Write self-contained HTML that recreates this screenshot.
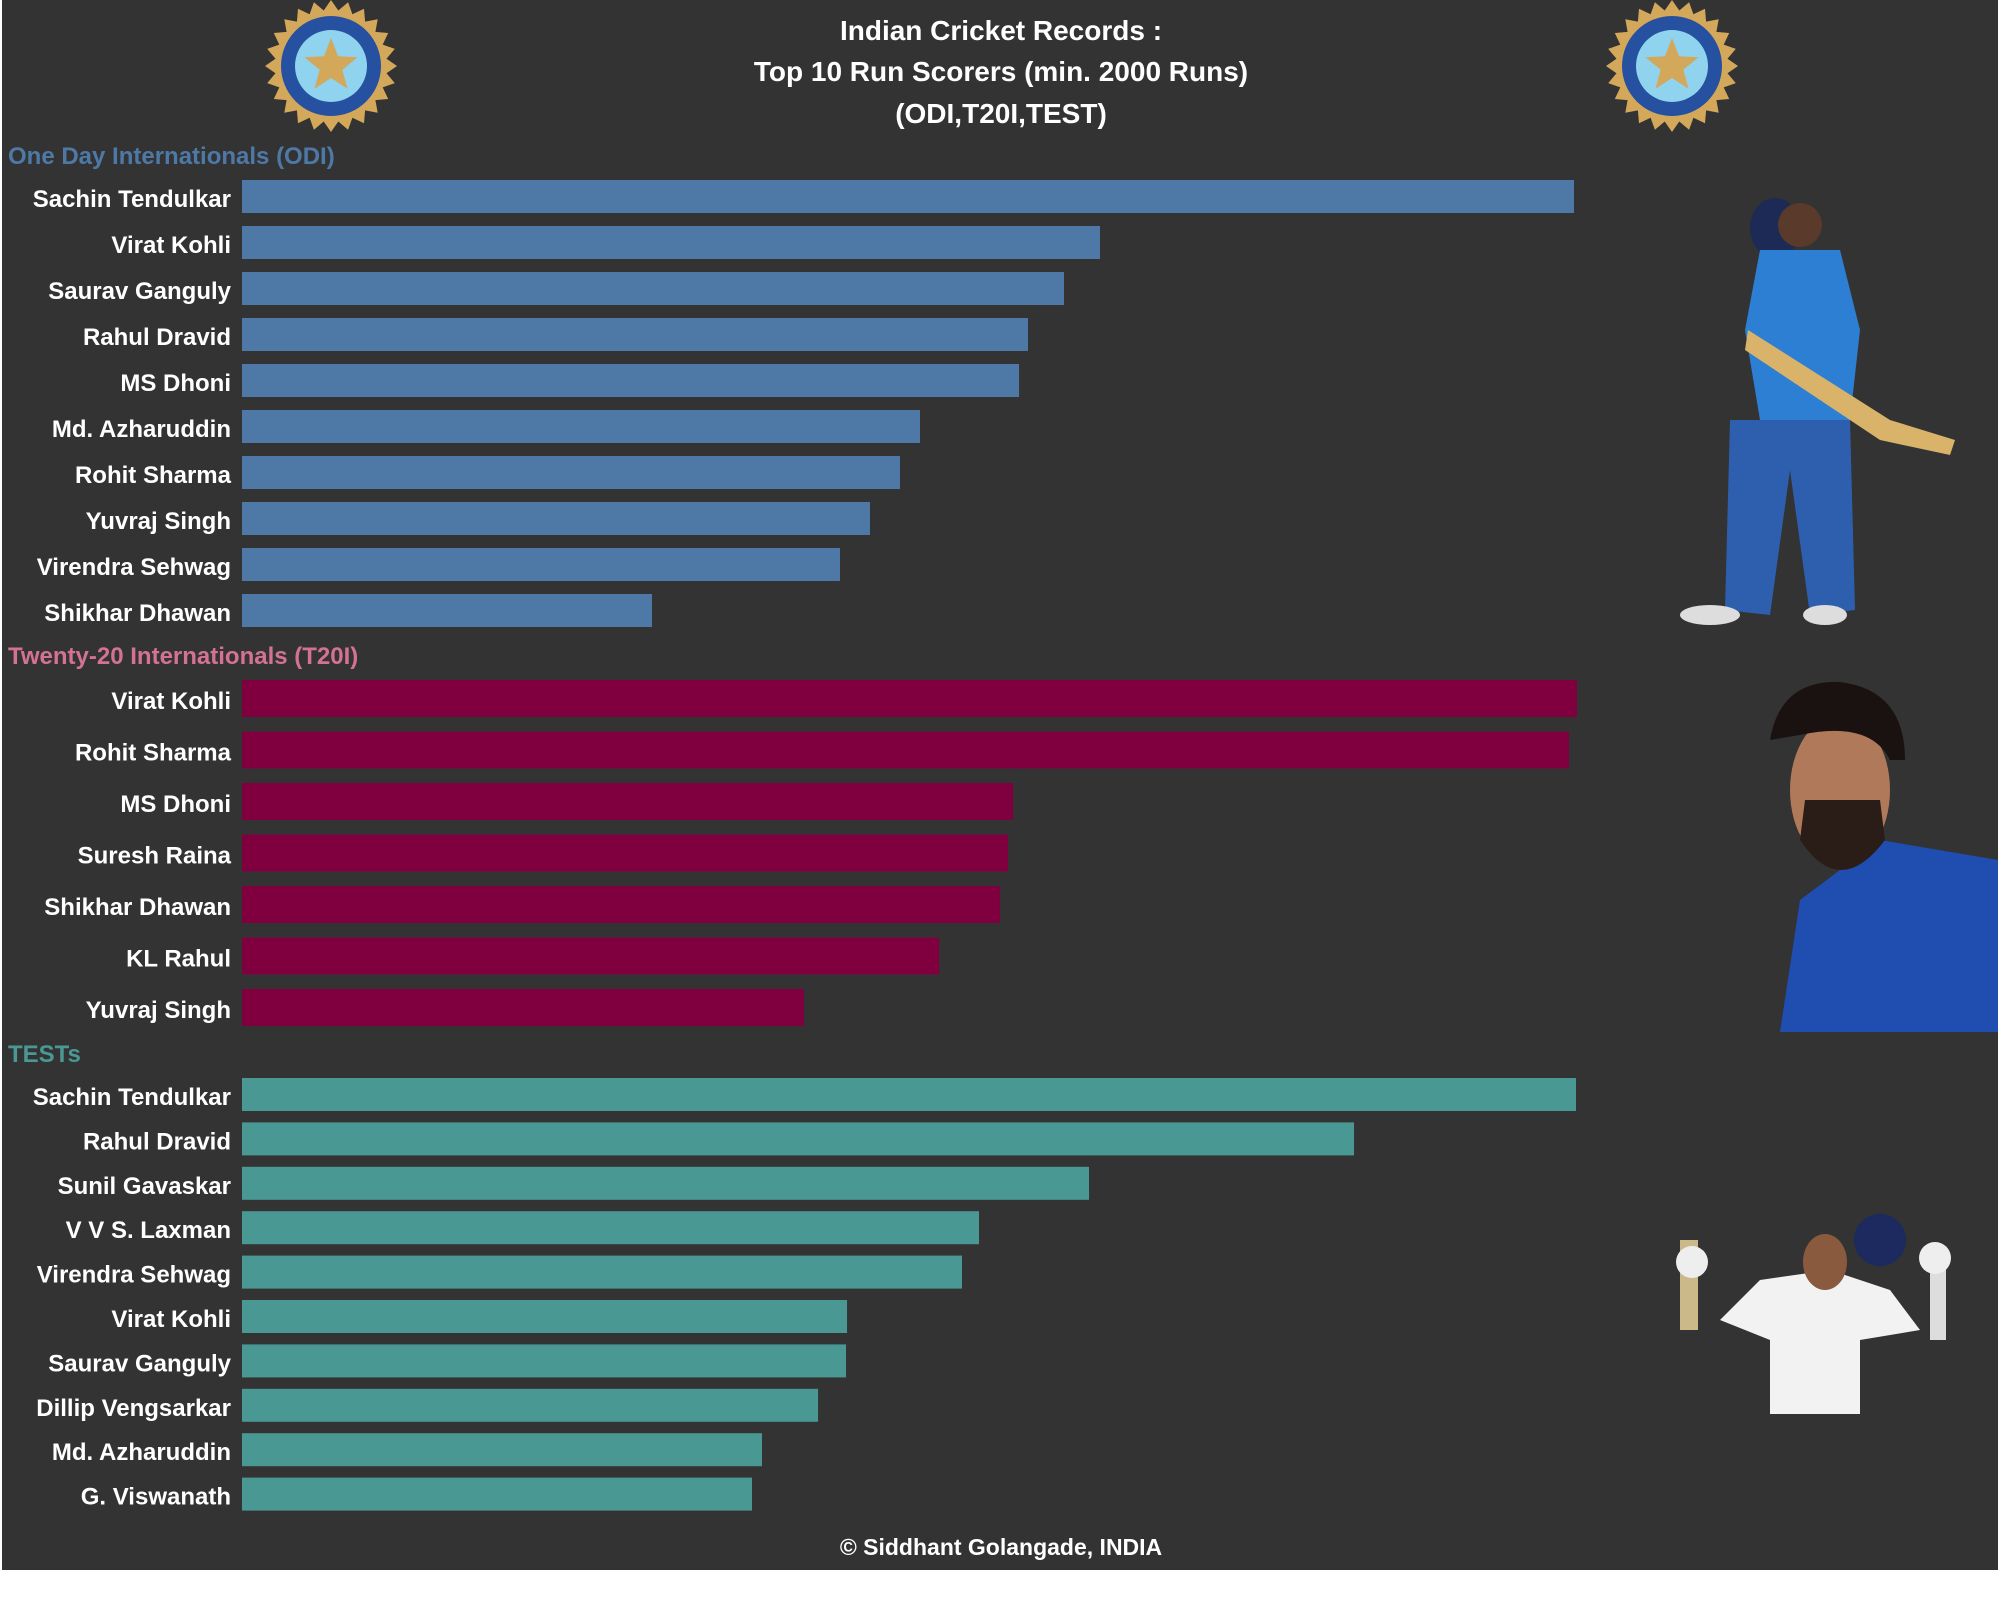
<!DOCTYPE html>
<html><head><meta charset="utf-8"><style>
html,body{margin:0;padding:0;background:#fff}
svg{display:block}
text{font-family:"Liberation Sans",sans-serif}
</style></head><body>
<svg id="chart" width="1998" height="1598" viewBox="0 0 1998 1598" xmlns="http://www.w3.org/2000/svg">
<rect x="2" y="0" width="1996" height="1570" fill="#333333"/>
<g fill="#ffffff" font-size="28" font-weight="bold" text-anchor="middle">
<text x="1001" y="40">Indian Cricket Records :</text>
<text x="1001" y="81">Top 10 Run Scorers (min. 2000 Runs)</text>
<text x="1001" y="123">(ODI,T20I,TEST)</text>
</g>
<g id="logos"></g>
<g id="bars"></g>
<g>
<ellipse cx="1775" cy="228" rx="25" ry="30" fill="#1c2a55"/>
<circle cx="1800" cy="225" r="22" fill="#5a3a2a"/>
<path d="M1760 250 L1840 250 L1860 330 L1850 420 L1760 420 L1745 330 Z" fill="#2d7fd4"/>
<path d="M1748 330 L1890 420 L1955 440 L1950 455 L1880 440 L1745 350 Z" fill="#d9b36a"/>
<path d="M1730 420 L1850 420 L1855 610 L1810 615 L1790 470 L1770 615 L1725 610 Z" fill="#2e5fae"/>
<ellipse cx="1710" cy="615" rx="30" ry="10" fill="#dddddd"/>
<ellipse cx="1825" cy="615" rx="22" ry="10" fill="#dddddd"/>
</g>
<g>
<path d="M1780 1032 L1800 900 L1880 840 L1998 860 L1998 1032 Z" fill="#1f4db0"/>
<ellipse cx="1840" cy="790" rx="50" ry="75" fill="#b07a5a"/>
<path d="M1770 740 Q1780 680 1840 682 Q1905 690 1905 760 L1890 760 Q1870 720 1800 735 Z" fill="#1a1210"/>
<path d="M1800 840 Q1840 900 1885 840 L1880 800 L1805 800 Z" fill="#2a1c16"/>
</g>
<g>
<path d="M1720 1320 L1760 1280 L1830 1270 L1890 1290 L1920 1330 L1860 1340 L1860 1414 L1770 1414 L1770 1340 Z" fill="#f2f2f2"/>
<ellipse cx="1825" cy="1262" rx="22" ry="28" fill="#8a5a3e"/>
<rect x="1680" y="1240" width="18" height="90" fill="#cbb98a"/>
<circle cx="1692" cy="1262" r="16" fill="#eeeeee"/>
<circle cx="1880" cy="1240" r="26" fill="#1c2a60"/>
<rect x="1930" y="1250" width="16" height="90" fill="#dddddd"/>
<circle cx="1935" cy="1258" r="16" fill="#eeeeee"/>
</g>
<text x="1001" y="1555" fill="#ffffff" font-size="23" font-weight="bold" text-anchor="middle">© Siddhant  Golangade, INDIA</text>
</svg>
<script>
const odiNames=["Sachin Tendulkar","Virat Kohli","Saurav Ganguly","Rahul Dravid","MS Dhoni","Md. Azharuddin","Rohit Sharma","Yuvraj Singh","Virendra Sehwag","Shikhar Dhawan"];
const odiRuns=[18426,11869,11371,10873,10749,9379,9102,8687,8272,5672];
const t20Names=["Virat Kohli","Rohit Sharma","MS Dhoni","Suresh Raina","Shikhar Dhawan","KL Rahul","Yuvraj Singh"];
const t20Runs=[4008,3984,2315,2300,2276,2093,1687];
const testNames=["Sachin Tendulkar","Rahul Dravid","Sunil Gavaskar","V V S. Laxman","Virendra Sehwag","Virat Kohli","Saurav Ganguly","Dillip Vengsarkar","Md. Azharuddin","G. Viswanath"];
const testRuns=[15921,13272,10109,8796,8593,7221,7209,6875,6206,6087];

const NS="http://www.w3.org/2000/svg";
const barsG=document.getElementById('bars');
function mk(tag,attrs,parent){const e=document.createElementNS(NS,tag);for(const k in attrs)e.setAttribute(k,attrs[k]);parent.appendChild(e);return e;}
const X0=242;
function section(key,title,titleColor,titleY,names,vals,color,top,pitch,h,maxPx){
  const g=mk('g',{},barsG);
  
  
  const t=mk('text',{x:8,y:titleY,fill:titleColor,'font-size':24,'font-weight':'bold'},g);
  
  
  t.textContent=title;
  const maxV=Math.max(...vals);
  const xs=v=>v/maxV*maxPx;
  names.forEach((n,i)=>{
    const y=top+i*pitch;
    const r=mk('rect',{x:X0,y:y,width:xs(vals[i]),height:h,fill:color},g);
    
    
    const l=mk('text',{x:231,y:y+h/2+10.5,fill:'#ffffff','font-size':24,'font-weight':'bold','text-anchor':'end'},g);
    
    
    l.textContent=n;
  });
}
section('odi','One Day Internationals (ODI)','#4e79a7',164,odiNames,odiRuns,'#4e79a7',180,46,33,1332);
section('t20i','Twenty-20 Internationals (T20I)','#d37295',664,t20Names,t20Runs,'#80003f',680,51.5,37,1335);
section('test','TESTs','#499894',1062,testNames,testRuns,'#499894',1078,44.4,33,1334);

const logosG=document.getElementById('logos');
[331,1672].forEach(cx=>{
  const g=mk('g',{},logosG);
  
  
  const cy=66;
  let pts=[];
  for(let k=0;k<48;k++){const a=k*Math.PI/24;const r=k%2?56:66;pts.push((cx+r*Math.cos(a)).toFixed(1)+','+(cy+r*Math.sin(a)).toFixed(1));}
  mk('polygon',{points:pts.join(' '),fill:'#d4a85a'},g);
  mk('circle',{cx:cx,cy:cy,r:50,fill:'#2650a0'},g);
  mk('circle',{cx:cx,cy:cy,r:36,fill:'#8fd3ee'},g);
  let sp=[];
  for(let k=0;k<10;k++){const a=-Math.PI/2+k*Math.PI/5;const r=k%2?12:28;sp.push((cx+r*Math.cos(a)).toFixed(1)+','+(cy+r*Math.sin(a)).toFixed(1));}
  mk('polygon',{points:sp.join(' '),fill:'#d4a85a'},g);
});
</script>
</body></html>
